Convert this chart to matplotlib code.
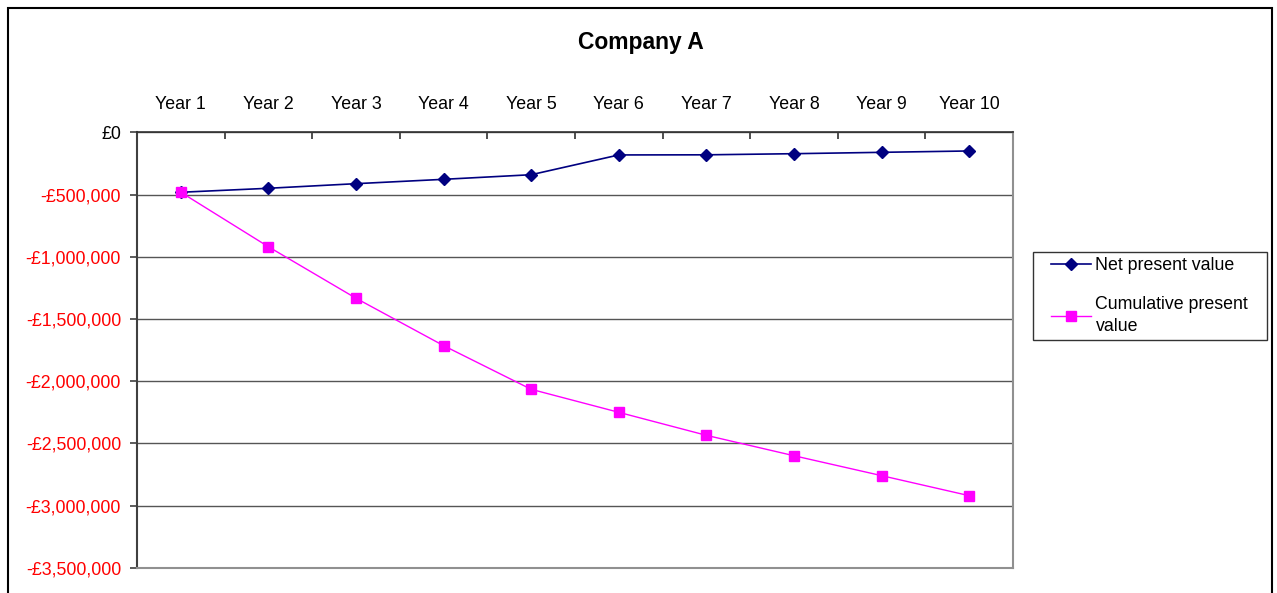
import numpy as np
from matplotlib import pyplot as plt
from matplotlib.patches import Rectangle
from matplotlib.ticker import FuncFormatter, FixedLocator

plt.rcParams['font.family'] = ['Liberation Sans', 'DejaVu Sans']

years = ["Year 1", "Year 2", "Year 3", "Year 4", "Year 5",
         "Year 6", "Year 7", "Year 8", "Year 9", "Year 10"]
net_pv = [-482000, -450000, -413000, -378000, -341000,
          -182000, -181000, -172000, -161000, -150000]
cum_pv = [-482000, -920000, -1334000, -1715000, -2066000,
          -2251000, -2436000, -2600000, -2760000, -2921000]
y_ticks = [0, -500000, -1000000, -1500000, -2000000, -2500000, -3000000, -3500000]

fig = plt.figure(figsize=(12.77, 5.93), dpi=100)
ax = fig.add_axes([137/1277, 1 - 567.7/593, (1013 - 137)/1277, (567.7 - 132.3)/593])

x = np.arange(len(years))
ax.plot(x, net_pv, '-D', color='#000080', lw=1.2, markersize=6.5, label="Net present value", zorder=3)
ax.plot(x, cum_pv, '-s', color='#FF00FF', lw=1.0, markersize=6.5, label="Cumulative present\nvalue", zorder=4)

ax.set_xlim(-0.5, len(years) - 0.5)
ax.set_ylim(-3500000, 0)

# y axis
ax.yaxis.set_major_locator(FixedLocator(y_ticks))
ax.yaxis.set_major_formatter(FuncFormatter(lambda v, p: "£0" if v == 0 else "-£{:,.0f}".format(-v)))
ax.tick_params(axis='y', direction='out', length=5, width=1.2, color='#404040', pad=6.5, labelsize=12.8)
for lab, v in zip(ax.get_yticklabels(), y_ticks):
    lab.set_color('black' if v == 0 else '#FF0000')
ax.grid(axis='y', color='#555555', lw=1)
ax.set_axisbelow(True)

# x axis on top: ticks at category borders, labels at centres
ax.xaxis.tick_top()
ax.set_xticks(np.arange(len(years) + 1) - 0.5)
ax.set_xticklabels([])
ax.set_xticks(x, minor=True)
ax.set_xticklabels(years, minor=True)
ax.tick_params(axis='x', which='major', direction='in', length=5, width=1.2, color='#303030')
ax.tick_params(axis='x', which='minor', length=0, pad=14, labelsize=12.8)

ax.spines['left'].set_color('#404040')
ax.spines['left'].set_linewidth(1.5)
ax.spines['top'].set_color('#303030')
ax.spines['top'].set_linewidth(1.2)
ax.spines['right'].set_color('#909090')
ax.spines['bottom'].set_color('#909090')
ax.spines['right'].set_linewidth(1.5)
ax.spines['bottom'].set_linewidth(1.5)

fig.text(0.502, 1 - 43/593, "Company A", ha='center', va='center', fontsize=16.5, fontweight='bold')

# legend without own frame, box drawn separately
leg = ax.legend(loc='upper left', bbox_to_anchor=(1051/1277, 1 - 257/593), bbox_transform=fig.transFigure,
                fontsize=12.8, frameon=False, borderaxespad=0, borderpad=0,
                handlelength=2.25, handletextpad=0.25, labelspacing=1.25)
for t in leg.get_texts():
    t.set_linespacing(1.4)
fig.patches.append(Rectangle((1033/1277, 1 - 340/593), (1267 - 1033)/1277, (340 - 252)/593,
                             transform=fig.transFigure, fill=False, edgecolor='#333333', lw=1.0))

# outer chart border
fig.patches.append(Rectangle((8/1277, -0.02), (1272 - 8)/1277, 1 - 8/593 + 0.02,
                             transform=fig.transFigure, fill=False, edgecolor='black', lw=1.5))

plt.savefig('out.png', dpi=100)
